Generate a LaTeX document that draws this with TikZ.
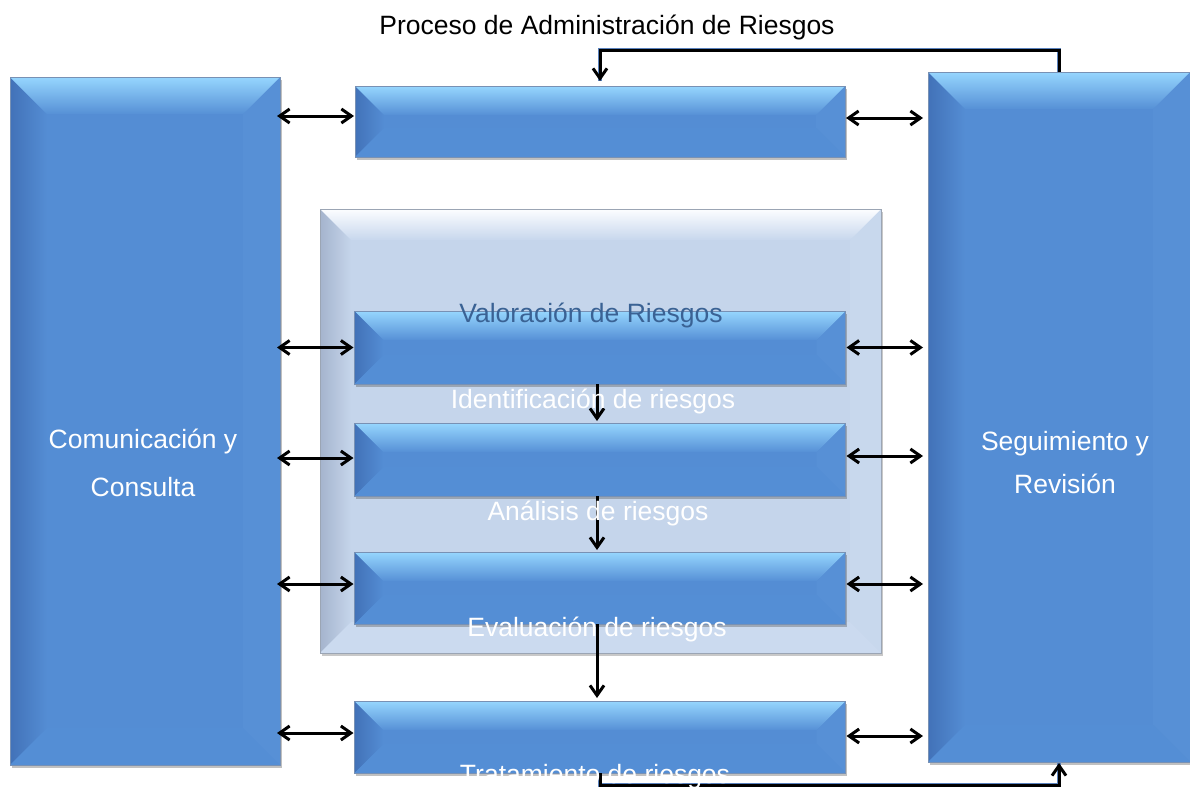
\documentclass[tikz,border=0pt]{standalone}
\usepackage{fontspec}
\setmainfont{Liberation Sans}
\usetikzlibrary{arrows.meta,shadows,calc}
\definecolor{bmain}{RGB}{84,141,212}
\definecolor{btop1}{RGB}{150,214,254}
\definecolor{btop2}{RGB}{86,144,214}
\definecolor{bleft}{RGB}{66,114,184}
\definecolor{bright}{RGB}{87,144,214}
\definecolor{bbottom}{RGB}{84,142,213}
\definecolor{bedge}{RGB}{120,145,180}
\definecolor{pmain}{RGB}{197,213,235}
\definecolor{ptop1}{RGB}{252,253,255}
\definecolor{ptop2}{RGB}{199,215,237}
\definecolor{pleft}{RGB}{165,180,205}
\definecolor{pright}{RGB}{200,216,237}
\definecolor{pbottom}{RGB}{203,218,239}
\definecolor{pedge}{RGB}{155,165,180}
\definecolor{valtxt}{RGB}{58,98,148}
\definecolor{loopblue}{RGB}{90,130,190}
\newcommand\bevfaces[8]{% node, inset, top1, top2, left, right, bottom, main
  \fill[#8] (#1.north west) rectangle (#1.south east);
  \shade[left color=#5, right color=#8]
    (#1.north west) -- ([shift={(#2,#2)}]#1.north west)
    -- ([shift={(#2,-#2)}]#1.south west) -- (#1.south west) -- cycle;
  \fill[#6]
    (#1.north east) -- ([shift={(-#2,#2)}]#1.north east)
    -- ([shift={(-#2,-#2)}]#1.south east) -- (#1.south east) -- cycle;
  \fill[#7]
    (#1.south west) -- ([shift={(#2,-#2)}]#1.south west)
    -- ([shift={(-#2,-#2)}]#1.south east) -- (#1.south east) -- cycle;
  \shade[top color=#3, bottom color=#4]
    (#1.north west) -- (#1.north east) -- ([shift={(-#2,#2)}]#1.north east)
    -- ([shift={(#2,#2)}]#1.north west) -- cycle;
}
\newcommand\bluefaces[2]{\bevfaces{#1}{#2}{btop1}{btop2}{bleft}{bright}{bbottom}{bmain}
  \draw[bedge, line width=.6pt] (#1.north west) rectangle (#1.south east);}
\tikzset{
  bluebox/.style={rectangle, fill=bmain, inner sep=0pt, outer sep=0pt,
    drop shadow={shadow xshift=1.5pt, shadow yshift=-3pt, opacity=.35, fill=black!70}},
  panelbox/.style={rectangle, fill=pmain, inner sep=0pt, outer sep=0pt,
    drop shadow={shadow xshift=1.5pt, shadow yshift=-3pt, opacity=.3, fill=black!70}},
  darr/.style={line width=3pt, {Straight Barb[length=10pt,width=14pt]}-{Straight Barb[length=10pt,width=14pt]}},
  varr/.style={line width=3pt, -{Straight Barb[length=10pt,width=14pt]}},
  looparr/.style={line width=3pt, -{Straight Barb[length=10pt,width=14pt]},
    preaction={draw=loopblue, line width=4.2pt, -}},
  lbl/.style={font=\fontsize{26.5}{30}\selectfont, text=white, inner sep=0pt, anchor=base},
}
\begin{document}
\begin{tikzpicture}[x=1pt,y=-1pt]
\fill[white] (0,0) rectangle (1190,787);
\useasboundingbox (0,0) rectangle (1190,787);

% panel
\node[panelbox, minimum width=561pt, minimum height=444pt] (pan) at (600.5,431) {};
\bevfaces{pan}{31}{ptop1}{ptop2}{pleft}{pright}{pbottom}{pmain}
\draw[pedge, line width=.8pt] (pan.north west) rectangle (pan.south east);

% big side boxes
\node[bluebox, minimum width=270pt, minimum height=688pt] (com) at (145,421) {};
\bluefaces{com}{37}
\node[bluebox, minimum width=262pt, minimum height=690pt] (seg) at (1059,417) {};
\bluefaces{seg}{37}

% step boxes
\node[bluebox, minimum width=490pt, minimum height=71pt] (ctx) at (600,121.5) {};
\bluefaces{ctx}{29}
\node[bluebox, minimum width=491pt, minimum height=73pt] (val) at (600,347.5) {};
\bluefaces{val}{29}
\node[bluebox, minimum width=491pt, minimum height=73pt] (ide) at (600,459.5) {};
\bluefaces{ide}{29}
\node[bluebox, minimum width=491pt, minimum height=72pt] (eva) at (600,588) {};
\bluefaces{eva}{29}
\node[bluebox, minimum width=491pt, minimum height=72pt] (tra) at (600,737) {};
\bluefaces{tra}{29}

% feedback loop
\draw[looparr, shorten >=5pt] (seg.north) -- ++(0,-22) -| (ctx.north);
\draw[looparr, shorten >=1pt] (tra.south) -- ++(0,12) -| (seg.south);

% vertical arrows
\draw[varr, shorten >=2pt] ([xshift=-3pt]val.south) -- ([xshift=-3pt]ide.north);
\draw[varr, shorten >=2pt] ([xshift=-3pt]ide.south) -- ([xshift=-3pt]eva.north);
\draw[varr, shorten >=3pt] ([xshift=-3pt]eva.south) -- ([xshift=-3pt]tra.north);

% double arrows left
\draw[darr, shorten <=-3pt, shorten >=1pt] ([yshift=5.5pt]com.east |- ctx.west) -- ([yshift=5.5pt]ctx.west);
\draw[darr, shorten <=-3pt, shorten >=1pt] (com.east |- val.west) -- (val.west);
\draw[darr, shorten <=-3pt, shorten >=1pt] ([yshift=1.5pt]com.east |- ide.west) -- ([yshift=1.5pt]ide.west);
\draw[darr, shorten <=-3pt, shorten >=1pt] ([yshift=4pt]com.east |- eva.west) -- ([yshift=4pt]eva.west);
\draw[darr, shorten <=-3pt, shorten >=1pt] ([yshift=4pt]com.east |- tra.west) -- ([yshift=4pt]tra.west);
% double arrows right
\draw[darr, shorten <=1pt, shorten >=5pt] ([yshift=3.5pt]ctx.east) -- ([yshift=3.5pt]seg.west |- ctx.east);
\draw[darr, shorten <=1pt, shorten >=5pt] (val.east) -- (seg.west |- val.east);
\draw[darr, shorten <=1pt, shorten >=5pt] ([yshift=3.5pt]ide.east) -- ([yshift=3.5pt]seg.west |- ide.east);
\draw[darr, shorten <=1pt, shorten >=5pt] ([yshift=4pt]eva.east) -- ([yshift=4pt]seg.west |- eva.east);
\draw[darr, shorten <=1pt, shorten >=5pt] ([yshift=1pt]tra.east) -- ([yshift=1pt]seg.west |- tra.east);

% texts
\node[lbl, text=black] (title) at (607,34) {Proceso de Administración de Riesgos};
\node[lbl] (tctx) at (595,183) {Establecimiento del contexto};
\node[lbl, text=valtxt] (tval) at (591,322) {Valoración de Riesgos};
\node[lbl] (tide) at (593,408) {Identificación de riesgos};
\node[lbl] (tana) at (598,520) {Análisis de riesgos};
\node[lbl] (teva) at (597,636) {Evaluación de riesgos};
\node[lbl] (ttra) at (595,783) {Tratamiento de riesgos};
\node[lbl, align=center, font=\fontsize{26.5}{48}\selectfont] (tcom) at (143,496) {Comunicación y\\Consulta};
\node[lbl, align=center, font=\fontsize{26.5}{43}\selectfont] (tseg) at (1065,493) {Seguimiento y\\Revisión};
\end{tikzpicture}
\end{document}
